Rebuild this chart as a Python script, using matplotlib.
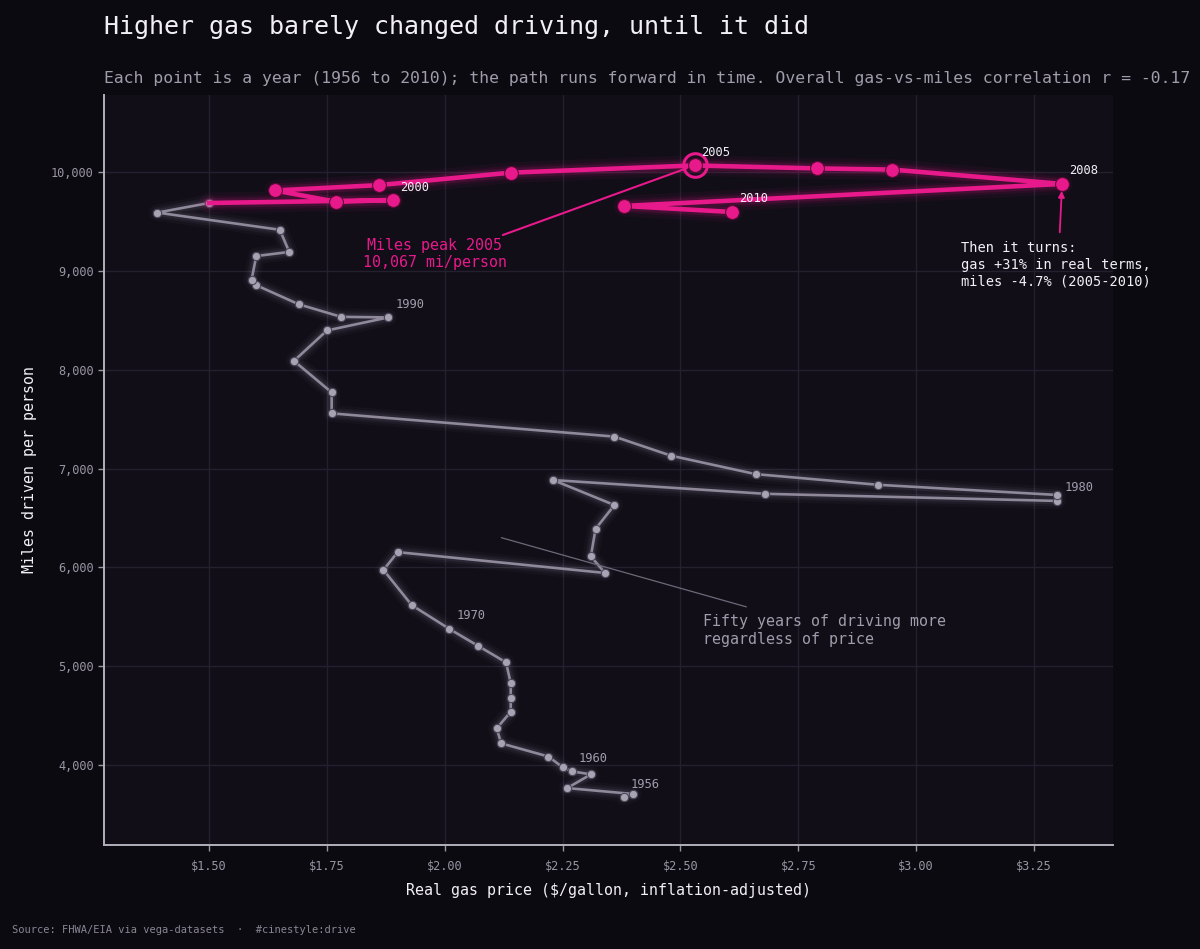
import numpy as np
import matplotlib
matplotlib.use("Agg")
import matplotlib.pyplot as plt
from matplotlib.ticker import FuncFormatter, MultipleLocator

# vega-datasets "driving"
years = list(range(1956, 2011))
miles = [3675, 3706, 3766, 3905, 3935, 3977, 4085, 4218, 4369, 4538,
         4676, 4827, 5038, 5207, 5376, 5617, 5973, 6154, 5943, 6111,
         6389, 6630, 6883, 6744, 6672, 6732, 6835, 6943, 7130, 7323,
         7558, 7770, 8089, 8397, 8529, 8535, 8662, 8855, 8909, 9150,
         9192, 9416, 9590, 9687, 9717, 9699, 9814, 9868, 9994, 10067,
         10037, 10025, 9880, 9657, 9596]
gas = [2.38, 2.40, 2.26, 2.31, 2.27, 2.25, 2.22, 2.12, 2.11, 2.14,
       2.14, 2.14, 2.13, 2.07, 2.01, 1.93, 1.87, 1.90, 2.34, 2.31,
       2.32, 2.36, 2.23, 2.68, 3.30, 3.30, 2.92, 2.66, 2.48, 2.36,
       1.76, 1.76, 1.68, 1.75, 1.88, 1.78, 1.69, 1.60, 1.59, 1.60,
       1.67, 1.65, 1.39, 1.50, 1.89, 1.77, 1.64, 1.86, 2.14, 2.53,
       2.79, 2.95, 3.31, 2.38, 2.61]
grey_labels = [1956, 1960, 1970, 1980, 1990]
pink_labels = [2000, 2005, 2008, 2010]
split_year = 1999

BG = "#0b0a10"
PANEL = "#110e18"
GRID = "#24202d"
GREY = "#8f899b"
GREY_PT = "#a8a2b3"
PINK = "#e8198b"
WHITE = "#f2f0f5"
MUTED = "#a19cab"

plt.rcParams["font.family"] = ["DejaVu Sans Mono"]

years = np.array(years)
miles = np.array(miles)
gas = np.array(gas)
r = np.corrcoef(gas, miles)[0, 1]

fig = plt.figure(figsize=(12, 9.49), dpi=100, facecolor=BG)
ax = fig.add_axes([0.0867, 0.1096, 0.8408, 0.7903], facecolor=PANEL)

old = years <= split_year
new = years >= split_year
late = years > split_year

# grey path with soft glow
for lw, a in [(12, 0.03), (8, 0.05), (5, 0.07)]:
    ax.plot(gas[old], miles[old], color="#c8c2d6", lw=lw, alpha=a,
            solid_capstyle="round", solid_joinstyle="round", zorder=2)
ax.plot(gas[old], miles[old], color=GREY, lw=1.9, zorder=3,
        solid_joinstyle="round")
ax.plot(gas[old], miles[old], "o", ms=6, color=GREY_PT,
        mec="#4a4556", mew=0.8, zorder=4)

# pink path with glow
for lw, a in [(15, 0.05), (10, 0.08), (7, 0.13)]:
    ax.plot(gas[new], miles[new], color=PINK, lw=lw, alpha=a,
            solid_capstyle="round", solid_joinstyle="round", zorder=5)
ax.plot(gas[new], miles[new], color=PINK, lw=3.3, zorder=6,
        solid_joinstyle="round")
ax.plot(gas[late], miles[late], "o", ms=10, color=PINK,
        mec="#5a0a35", mew=0.8, zorder=7)

# ring at the peak
peak = np.argmax(miles)
ax.plot(gas[peak], miles[peak], "o", ms=17, mfc="none", mec=PINK,
        mew=2.2, zorder=8)

# year labels
for y in grey_labels:
    i = list(years).index(y)
    ax.annotate(str(y), (gas[i], miles[i]), xytext=(7, 13),
                textcoords="offset pixels", color=MUTED, fontsize=8.7,
                va="center", ha="left", zorder=9)
for y in pink_labels:
    i = list(years).index(y)
    ax.annotate(str(y), (gas[i], miles[i]), xytext=(7, 13),
                textcoords="offset pixels", color=WHITE, fontsize=8.7,
                va="center", ha="left", zorder=9)

# annotations
ax.annotate("Miles peak 2005\n10,067 mi/person", (gas[peak], miles[peak]),
            xytext=(1.979, 9335), color=PINK, fontsize=10.8,
            ha="center", va="top", linespacing=1.2, zorder=9,
            arrowprops=dict(arrowstyle="-", color=PINK, lw=1.5,
                            shrinkA=0, shrinkB=6,
                            relpos=(0.95, 1.05)))
i08 = list(years).index(2008)
ax.annotate("", (gas[i08], miles[i08]), xytext=(gas[i08] - 0.005, 9390),
            arrowprops=dict(arrowstyle="-|>", color=PINK, lw=1.3,
                            mutation_scale=9, shrinkA=0, shrinkB=5),
            zorder=9)
ax.text(3.096, 9300, "Then it turns:\ngas +31% in real terms,\nmiles -4.7% (2005-2010)",
        color=WHITE, fontsize=9.8, ha="left", va="top",
        linespacing=1.25, zorder=9)
ax.annotate("", (2.12, 6300), xytext=(2.64, 5600),
            arrowprops=dict(arrowstyle="-", color="#6e6879", lw=0.9,
                            shrinkA=0, shrinkB=0), zorder=9)
ax.text(2.547, 5530, "Fifty years of driving more\nregardless of price",
        color=MUTED, fontsize=10.8, ha="left", va="top",
        linespacing=1.25, zorder=9)

ax.set_xlim(1.277, 3.418)
ax.set_ylim(3190, 10780)
ax.xaxis.set_major_locator(MultipleLocator(0.25))
ax.yaxis.set_major_locator(MultipleLocator(1000))
ax.xaxis.set_major_formatter(FuncFormatter(lambda v, p: f"${v:.2f}"))
ax.yaxis.set_major_formatter(FuncFormatter(lambda v, p: f"{v:,.0f}"))
ax.grid(True, color=GRID, lw=1)
ax.set_axisbelow(True)
for s in ["top", "right"]:
    ax.spines[s].set_visible(False)
for s in ["left", "bottom"]:
    ax.spines[s].set_color("#b3afbb")
    ax.spines[s].set_linewidth(1.4)
ax.tick_params(colors="#9a95a4", labelsize=8.6, length=4, width=1)
ax.tick_params(axis="x", pad=7)
ax.set_xlabel("Real gas price ($/gallon, inflation-adjusted)",
              color=WHITE, fontsize=10.8, labelpad=7)
ax.set_ylabel("Miles driven per person", color=WHITE, fontsize=10.8,
              labelpad=10)

fig.text(0.0867, 0.972, "Higher gas barely changed driving, until it did",
         color=WHITE, fontsize=18, ha="left", va="center")
fig.text(0.0867, 0.917,
         "Each point is a year (1956 to 2010); the path runs forward in time. "
         f"Overall gas-vs-miles correlation r = {r:.2f}",
         color=MUTED, fontsize=11.8, ha="left", va="center")
fig.text(0.01, 0.02, "Source: FHWA/EIA via vega-datasets  \u00b7  #cinestyle:drive",
         color="#8a8594", fontsize=7.5, ha="left", va="center")

fig.savefig("out.png", dpi=100, facecolor=BG)
